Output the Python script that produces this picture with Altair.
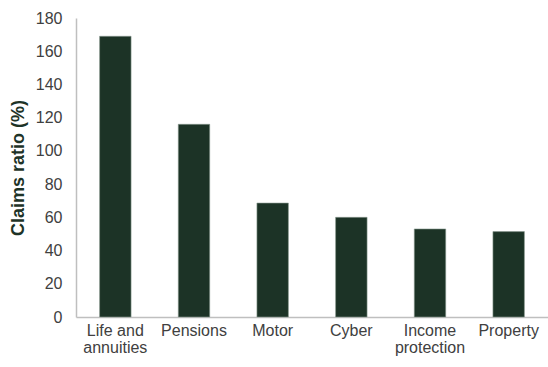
import altair as alt
import pandas as pd

categories = ["Life and\nannuities", "Pensions", "Motor", "Cyber", "Income\nprotection", "Property"]
values = [169, 116, 68.6, 60, 53, 51.4]

df = pd.DataFrame({"category": categories, "value": values})

chart = alt.Chart(df).mark_bar(color="#1c3326", stroke="#8a9a90", strokeWidth=0.6).encode(
    x=alt.X("category:N", sort=categories,
            scale=alt.Scale(paddingInner=0.6, paddingOuter=0.3),
            axis=alt.Axis(title=None, labelAngle=0, ticks=False, domainColor="#bfbfbf", domainWidth=1.5,
                          labelFont="Liberation Sans", labelFontSize=16, labelColor="#404040",
                          labelPadding=5, labelLineHeight=17,
                          labelExpr="split(datum.label, '\\n')")),
    y=alt.Y("value:Q", scale=alt.Scale(domain=[0, 180]),
            axis=alt.Axis(title="Claims ratio (%)", values=list(range(0, 181, 20)), grid=False, ticks=False,
                          domainColor="#bfbfbf", domainWidth=1.5,
                          labelFont="Liberation Sans", labelFontSize=16, labelColor="#404040", labelPadding=14,
                          titleFont="Liberation Sans", titleFontSize=18, titleFontWeight="bold",
                          titleColor="#1e3327", titlePadding=8)),
).properties(
    width=472, height=299,
    padding={"left": 76, "top": 18, "right": 0, "bottom": 50},
    autosize=alt.AutoSizeParams(type="none"),
).configure_view(stroke=None)

chart.save("out.html", embed_options={"renderer": "svg", "actions": False})
